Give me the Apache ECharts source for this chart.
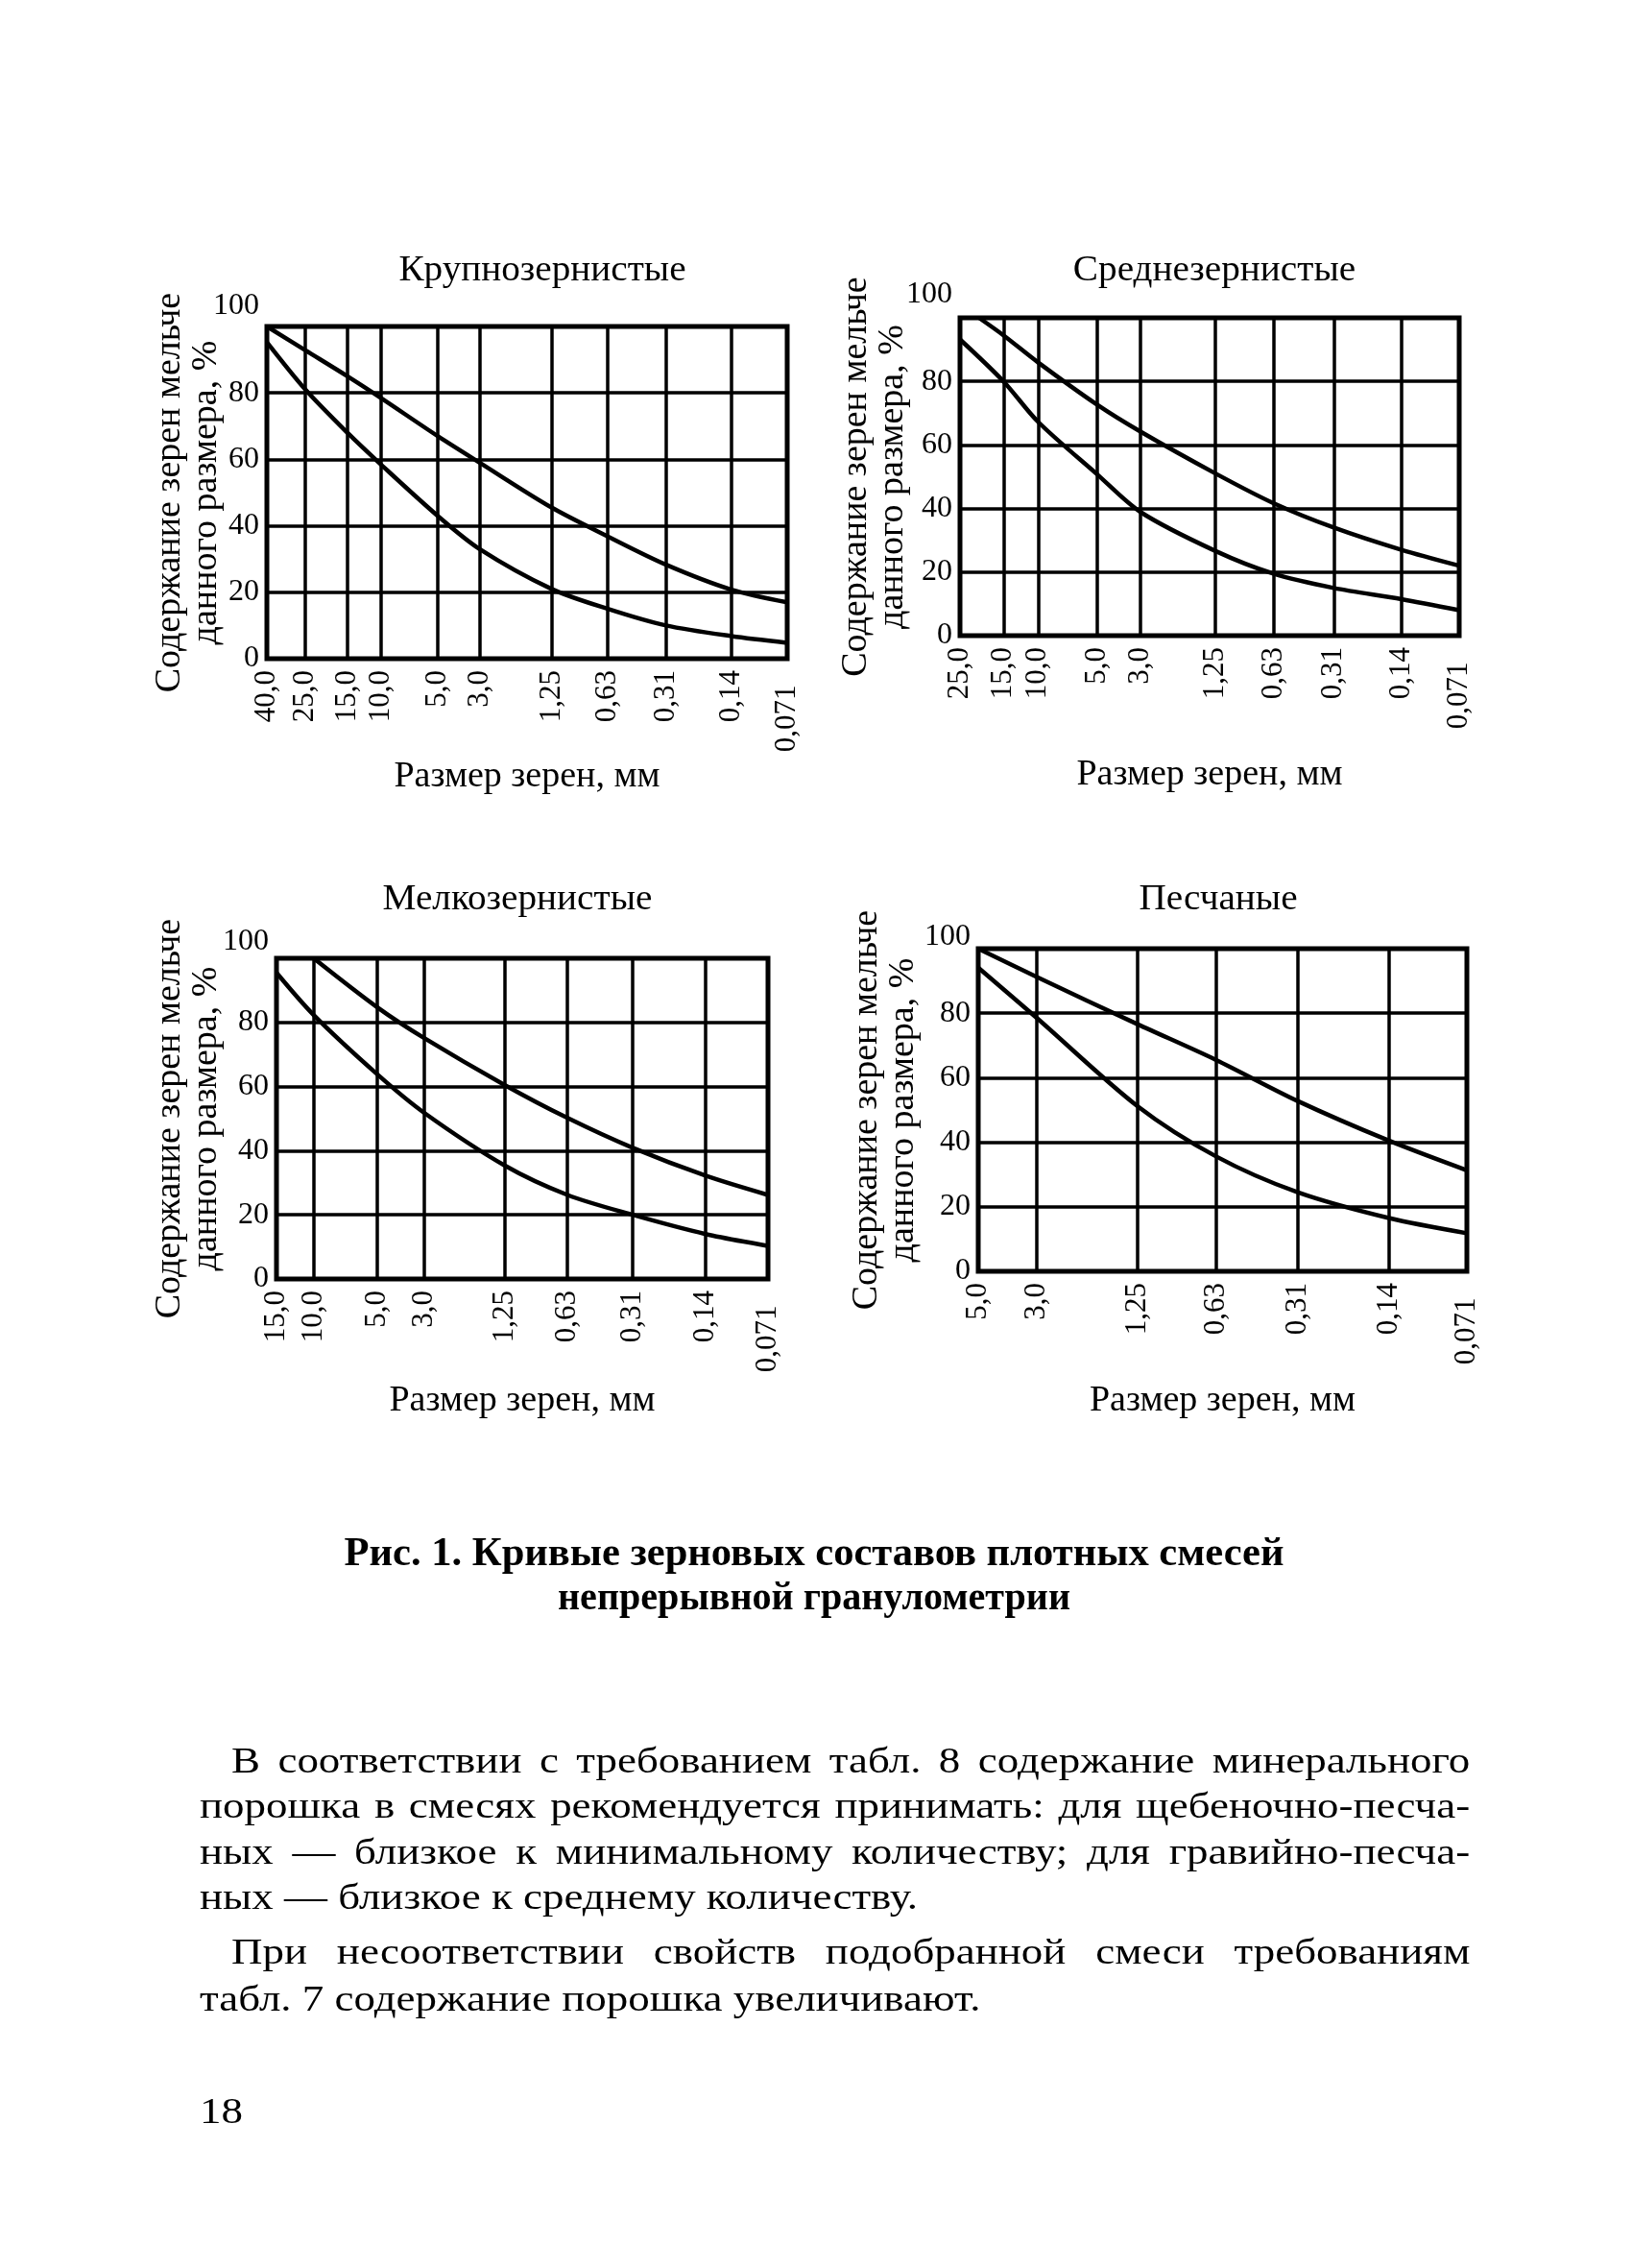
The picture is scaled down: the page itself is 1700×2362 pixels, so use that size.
<!DOCTYPE html>
<html>
<head>
<meta charset="utf-8">
<script src="https://cdn.jsdelivr.net/npm/echarts@6.0.0/dist/echarts.min.js"></script>
<style>
  html, body { margin: 0; padding: 0; background: #fff; }
  #page { position: relative; width: 1700px; height: 2362px; }
  #chart { position: absolute; left: 0; top: 0; width: 1700px; height: 2362px; }
  .ln {
    position: absolute;
    font-family: "Liberation Serif", "DejaVu Serif", serif;
    font-size: 37px;
    line-height: 48px;
    color: #000;
    white-space: nowrap;
    transform-origin: 0 50%;
    transform: scaleX(1.215);
  }
  .j { text-align: justify; text-align-last: justify; }
</style>
</head>
<body>
<div id="page">
  <div id="chart"></div>
  <div class="ln j" style="left:241px;top:1810px;width:1062px">В соответствии с требованием табл. 8 содержание минерального</div>
  <div class="ln j" style="left:208px;top:1857px;width:1089px">порошка в смесях рекомендуется принимать: для щебеночно-песча-</div>
  <div class="ln j" style="left:208px;top:1905px;width:1089px">ных — близкое к минимальному количеству; для гравийно-песча-</div>
  <div class="ln" style="left:208px;top:1952px">ных — близкое к среднему количеству.</div>
  <div class="ln j" style="left:241px;top:2009px;width:1062px">При несоответствии свойств подобранной смеси требованиям</div>
  <div class="ln" style="left:208px;top:2058px">табл. 7 содержание порошка увеличивают.</div>
  <div class="ln" style="left:208px;top:2175px">18</div>
</div>
<script>
const FONT = '"Liberation Serif", "DejaVu Serif", serif';

// Крупнозернистые
const sizes1 = [40, 25, 15, 10, 5, 3, 1.25, 0.63, 0.31, 0.14, 0.071];
const labels1 = ['40,0', '25,0', '15,0', '10,0', '5,0', '3,0', '1,25', '0,63', '0,31', '0,14', '0,071'];
const upperX1 = [40, 25, 15, 10, 5, 3, 1.25, 0.63, 0.31, 0.14, 0.071];
const upper1 = [100, 92.8, 85, 78.5, 67, 59, 45.5, 36.8, 28.3, 20.8, 17];
const lowerX1 = [40, 25, 15, 10, 5, 3, 1.25, 0.63, 0.31, 0.14, 0.071];
const lower1 = [95.3, 81, 68, 58.5, 43, 33, 21, 15, 10, 6.8, 4.8];

// Среднезернистые
const sizes2 = [25, 15, 10, 5, 3, 1.25, 0.63, 0.31, 0.14, 0.071];
const labels2 = ['25,0', '15,0', '10,0', '5,0', '3,0', '1,25', '0,63', '0,31', '0,14', '0,071'];
const upperX2 = [20, 15, 10, 5, 3, 1.25, 0.63, 0.31, 0.14, 0.071];
const upper2 = [100, 94.5, 86, 72.7, 64.2, 51.1, 41.7, 34, 27, 22];
const lowerX2 = [25, 15, 10, 5, 3, 1.25, 0.63, 0.31, 0.14, 0.071];
const lower2 = [93.2, 80, 67.3, 50.8, 38.9, 26.7, 19.5, 15, 11.5, 8];

// Мелкозернистые
const sizes3 = [15, 10, 5, 3, 1.25, 0.63, 0.31, 0.14, 0.071];
const labels3 = ['15,0', '10,0', '5,0', '3,0', '1,25', '0,63', '0,31', '0,14', '0,071'];
const upperX3 = [10, 5, 3, 1.25, 0.63, 0.31, 0.14, 0.071];
const upper3 = [100, 84.7, 75.1, 60.5, 50.2, 40.9, 32.2, 26.2];
const lowerX3 = [15, 10, 5, 3, 1.25, 0.63, 0.31, 0.14, 0.071];
const lower3 = [95.5, 82.3, 63.8, 51.8, 35.4, 26.2, 20, 14, 10.3];

// Песчаные
const sizes4 = [5, 3, 1.25, 0.63, 0.31, 0.14, 0.071];
const labels4 = ['5,0', '3,0', '1,25', '0,63', '0,31', '0,14', '0,071'];
const upperX4 = [5, 3, 1.25, 0.63, 0.31, 0.14, 0.071];
const upper4 = [100, 91.2, 76.6, 65.5, 52.8, 40.5, 31.3];
const lowerX4 = [5, 3, 1.25, 0.63, 0.31, 0.14, 0.071];
const lower4 = [94.1, 78.5, 51.2, 35.6, 24.5, 16.5, 11.8];

const titles = ['Крупнозернистые', 'Среднезернистые', 'Мелкозернистые', 'Песчаные'];
const yTicks = [0, 20, 40, 60, 80, 100];
const xName = 'Размер зерен, мм';
const yName = 'Содержание зерен мельче\nданного размера, %';
const caption = ['Рис. 1. Кривые зерновых составов плотных смесей', 'непрерывной гранулометрии'];

// layout of the four panels (px)
const panels = [
  { sizes: sizes1, labels: labels1, curves: [[upperX1, upper1], [lowerX1, lower1]], box: [278, 340, 542, 346], title: [565, 282], yGap: 44, xGap: 104, hi: 21 },
  { sizes: sizes2, labels: labels2, curves: [[upperX2, upper2], [lowerX2, lower2]], box: [1000, 331, 520, 331], title: [1265, 282], yGap: 51, xGap: 126, hi: 24 },
  { sizes: sizes3, labels: labels3, curves: [[upperX3, upper3], [lowerX3, lower3]], box: [288, 998, 512, 334], title: [539, 937], yGap: 54, xGap: 108, hi: 17 },
  { sizes: sizes4, labels: labels4, curves: [[upperX4, upper4], [lowerX4, lower4]], box: [1019, 988, 509, 336], title: [1269, 937], yGap: 59, xGap: 116, hi: 12 }
];

const ink = '#000';
const grids = [], xAxes = [], yAxes = [], series = [], graphics = [];

panels.forEach(function (p, i) {
  grids.push({
    left: p.box[0], top: p.box[1], width: p.box[2], height: p.box[3],
    show: true, borderColor: '#000', borderWidth: 5
  });
  xAxes.push({
    gridIndex: i,
    type: 'log',
    logBase: 10,
    inverse: true,
    min: p.sizes[p.sizes.length - 1],
    max: p.sizes[0],
    axisLine: { show: false },
    axisTick: { show: false, customValues: p.sizes },
    splitLine: { show: true, lineStyle: { color: '#000', width: 3.5 } },
    axisLabel: {
      customValues: p.sizes,
      rotate: 90,
      margin: 12,
      fontFamily: FONT,
      fontSize: 31,
      color: ink,
      formatter: function (v) {
        for (let k = 0; k < p.sizes.length; k++) {
          if (Math.abs(p.sizes[k] - v) / v < 1e-6) {
            return k === p.sizes.length - 1 ? p.labels[k] + '\u00a0\u00a0' : p.labels[k];
          }
        }
        return '';
      }
    },
    name: xName,
    nameLocation: 'middle',
    nameGap: p.xGap,
    nameMoveOverlap: false,
    nameTextStyle: { fontFamily: FONT, fontSize: 38, color: ink }
  });
  yAxes.push({
    gridIndex: i,
    type: 'value',
    min: yTicks[0],
    max: yTicks[yTicks.length - 1],
    interval: yTicks[1] - yTicks[0],
    axisLine: { show: false },
    axisTick: { show: false },
    splitLine: { show: true, lineStyle: { color: '#000', width: 3.5 } },
    axisLabel: {
      margin: 8,
      fontFamily: FONT,
      fontSize: 32,
      color: ink,
      formatter: function (v) { return v === 100 ? '{hi|100}' : String(v); },
      rich: { hi: { fontFamily: FONT, fontSize: 32, color: ink, padding: [0, 0, p.hi * 2, 0] } }
    },
    name: yName,
    nameLocation: 'middle',
    nameRotate: 90,
    nameGap: p.yGap,
    nameMoveOverlap: false,
    nameTextStyle: { fontFamily: FONT, fontSize: 38, lineHeight: 38, color: ink }
  });
  p.curves.forEach(function (c) {
    series.push({
      type: 'line',
      xAxisIndex: i,
      yAxisIndex: i,
      data: c[0].map(function (s, k) { return [s, c[1][k]]; }),
      smooth: 0.3,
      symbol: 'none',
      silent: true,
      lineStyle: { color: '#000', width: 4.5 }
    });
  });
  graphics.push({
    type: 'text', x: p.title[0], y: p.title[1], scaleX: 1.06,
    style: { text: titles[i], font: '37px ' + FONT, fill: ink, align: 'center', verticalAlign: 'middle' }
  });
});

// caption, bold and condensed like the book's face
const ctx = document.createElement('canvas').getContext('2d');
const capFont = 'bold 42px ' + FONT;
ctx.font = capFont;
const capWidth = [979, 534];
const capY = [1619, 1665];
caption.forEach(function (t, k) {
  const w = ctx.measureText(t).width;
  graphics.push({
    type: 'text', x: 848, y: capY[k], scaleX: capWidth[k] / w,
    style: { text: t, font: capFont, fill: ink, align: 'center', verticalAlign: 'middle' }
  });
});

const chart = echarts.init(document.getElementById('chart'), null, { renderer: 'canvas' });
chart.setOption({
  animation: false,
  backgroundColor: '#fff',
  grid: grids,
  xAxis: xAxes,
  yAxis: yAxes,
  series: series,
  graphic: graphics
});
</script>
</body>
</html>
